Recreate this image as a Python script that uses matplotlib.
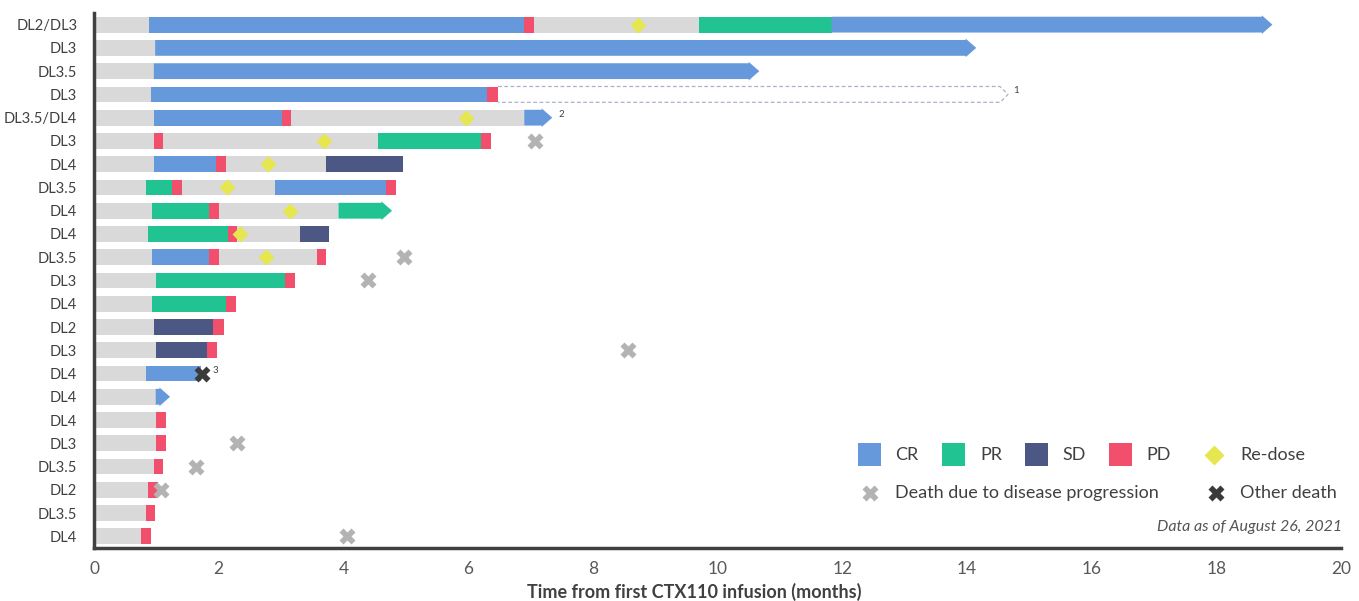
import matplotlib
matplotlib.use("Agg")
import matplotlib.pyplot as plt
from matplotlib.patches import Polygon, Rectangle
from matplotlib.lines import Line2D
from matplotlib.transforms import Affine2D

plt.rcParams['font.family'] = ['Lato', 'DejaVu Sans']

# ---------------- data ----------------
row_labels = ["DL2/DL3", "DL3", "DL3.5", "DL3", "DL3.5/DL4", "DL3", "DL4", "DL3.5",
              "DL4", "DL4", "DL3.5", "DL3", "DL4", "DL2", "DL3", "DL4", "DL4",
              "DL4", "DL3", "DL3.5", "DL2", "DL3.5", "DL4"]

seg_states = [
    ["G", "CR", "PD", "G", "PR", "CR"],
    ["G", "CR"],
    ["G", "CR"],
    ["G", "CR", "PD"],
    ["G", "CR", "PD", "G", "CR"],
    ["G", "PD", "G", "PR", "PD"],
    ["G", "CR", "PD", "G", "SD"],
    ["G", "PR", "PD", "G", "CR", "PD"],
    ["G", "PR", "PD", "G", "PR"],
    ["G", "PR", "PD", "G", "SD"],
    ["G", "CR", "PD", "G", "PD"],
    ["G", "PR", "PD"],
    ["G", "PR", "PD"],
    ["G", "SD", "PD"],
    ["G", "SD", "PD"],
    ["G", "CR"],
    ["G", "CR"],
    ["G", "PD"],
    ["G", "PD"],
    ["G", "PD"],
    ["G", "PD"],
    ["G", "PD"],
    ["G", "PD"],
]

seg_ends = [
    [0.89, 6.89, 7.06, 9.70, 11.83, 18.90],
    [0.98, 14.15],
    [0.96, 10.67],
    [0.92, 6.31, 6.48],
    [0.96, 3.01, 3.16, 6.90, 7.35],
    [0.96, 1.11, 4.56, 6.20, 6.36],
    [0.96, 1.95, 2.11, 3.72, 4.95],
    [0.83, 1.25, 1.41, 2.90, 4.69, 4.85],
    [0.93, 1.84, 2.01, 3.92, 4.78],
    [0.86, 2.15, 2.29, 3.31, 3.77],
    [0.93, 1.84, 2.01, 3.57, 3.72],
    [0.99, 3.07, 3.23],
    [0.93, 2.11, 2.28],
    [0.96, 1.91, 2.08],
    [0.99, 1.81, 1.98],
    [0.83, 1.71],
    [0.99, 1.22],
    [0.99, 1.15],
    [0.99, 1.16],
    [0.96, 1.11],
    [0.86, 1.02],
    [0.83, 0.98],
    [0.76, 0.92],
]

ongoing = [True, True, True, False, True, False, False, False, True, False, False,
           False, False, False, False, False, True, False, False, False, False,
           False, False]

# dashed continuation (row index, start, end)
dashed_row = 3
dashed_start = 6.48
dashed_end = 14.66

redose_rows = [0, 4, 5, 6, 7, 8, 9, 10]
redose_times = [8.72, 5.96, 3.69, 2.79, 2.13, 3.15, 2.34, 2.76]

death_pd_rows = [5, 10, 11, 14, 18, 19, 20, 22]
death_pd_times = [7.08, 4.97, 4.40, 8.57, 2.29, 1.63, 1.08, 4.05]

other_death_rows = [15]
other_death_times = [1.73]

note_rows = [3, 4, 15]
note_times = [14.74, 7.45, 1.90]
note_texts = ["1", "2", "3"]

x_ticks = [0, 2, 4, 6, 8, 10, 12, 14, 16, 18, 20]

# ---------------- style ----------------
colors = {"G": "#d9d9d9", "CR": "#6699dc", "PR": "#22c393", "SD": "#4d5783",
          "PD": "#f24f6d"}
redose_color = "#e6e64e"
death_pd_color = "#b3b3b3"
other_death_color = "#3a3a3a"
text_color = "#404040"

W, H = 1359, 601
fig = plt.figure(figsize=(W / 100, H / 100), dpi=100)
ax = fig.add_axes([94 / W, 1 - 548 / H, (1341 - 94) / W, (548 - 13) / H])

n = len(row_labels)
bar_h = 0.68
head_h = 0.80
head_len = 0.17

for i in range(n):
    start = 0.0
    states = seg_states[i]
    ends = seg_ends[i]
    for j, (st, en) in enumerate(zip(states, ends)):
        last = (j == len(states) - 1)
        if last and ongoing[i]:
            sh = en - head_len
            pts = [(start, i - bar_h / 2), (sh, i - bar_h / 2), (sh, i - head_h / 2),
                   (en, i), (sh, i + head_h / 2), (sh, i + bar_h / 2),
                   (start, i + bar_h / 2)]
            ax.add_patch(Polygon(pts, closed=True, facecolor=colors[st],
                                 edgecolor="none", zorder=2))
        else:
            ax.barh(i, en - start, left=start, height=bar_h, color=colors[st],
                    edgecolor="none", zorder=2)
        start = en

# dashed outline arrow
i = dashed_row
sh = dashed_end - 0.13
pts = [(dashed_start, i - bar_h / 2), (sh, i - bar_h / 2), (dashed_end, i),
       (sh, i + bar_h / 2), (dashed_start, i + bar_h / 2)]
ax.add_patch(Polygon(pts, closed=False, facecolor="none", edgecolor="#a9b3c6",
                     linestyle=(0, (3, 2)), linewidth=0.9, zorder=2))

ax.plot(redose_times, redose_rows, linestyle="none", marker="D", markersize=8.5,
        color=redose_color, markeredgecolor="none", zorder=4)
ax.plot(death_pd_times, death_pd_rows, linestyle="none", marker="X", markersize=11,
        color=death_pd_color, markeredgecolor="none", zorder=4)
ax.plot(other_death_times, other_death_rows, linestyle="none", marker="X",
        markersize=11, color=other_death_color, markeredgecolor="none", zorder=4)

for r, t, s in zip(note_rows, note_times, note_texts):
    ax.text(t, r - 0.15, s, fontsize=7, color=text_color, ha="left", va="center")

ax.set_xlim(0, 20)
ax.set_ylim(n - 0.5, -0.5)
ax.set_xticks(x_ticks)
ax.set_xticklabels([str(t) for t in x_ticks])
ax.set_yticks(range(n))
ax.set_yticklabels(row_labels)
ax.tick_params(axis="x", length=0, pad=9, labelsize=12.5, labelcolor="#595959")
ax.tick_params(axis="y", length=0, pad=12, labelsize=10.5, labelcolor=text_color)
for s in ["top", "right"]:
    ax.spines[s].set_visible(False)
for s in ["left", "bottom"]:
    ax.spines[s].set_color("#404040")
    ax.spines[s].set_linewidth(2.5)
ax.set_xlabel("Time from first CTX110 infusion (months)", fontsize=13,
              fontweight="bold", color=text_color)
ax.xaxis.set_label_coords((694.5 - 94) / 1247, -(592 - 548) / 535, transform=None) if False else None
ax.xaxis.set_label_coords((694.5 - 94) / 1247, -(592 - 548) / 535)
ax.xaxis.label.set_va("center")

# ---------------- legend (figure pixel coordinates) ----------------
pix = Affine2D().scale(1 / W, -1 / H).translate(0, 1) + fig.transFigure
leg_items = [("CR", 858, 895), ("PR", 942, 980), ("SD", 1025, 1062), ("PD", 1109, 1146)]
for key, sx, tx in leg_items:
    fig.add_artist(Rectangle((sx, 443), 23, 23, transform=pix, facecolor=colors[key],
                             edgecolor="none"))
    fig.text(tx, 455, key, transform=pix, fontsize=13, color=text_color,
             ha="left", va="center")
fig.add_artist(Line2D([1214], [455], transform=pix, marker="D", markersize=10,
                      color=redose_color, markeredgecolor="none"))
fig.text(1240, 455, "Re-dose", transform=pix, fontsize=13, color=text_color,
         ha="left", va="center")
fig.add_artist(Line2D([870], [493], transform=pix, marker="X", markersize=11,
                      color=death_pd_color, markeredgecolor="none"))
fig.text(895, 493, "Death due to disease progression", transform=pix, fontsize=13,
         color=text_color, ha="left", va="center")
fig.add_artist(Line2D([1216], [493], transform=pix, marker="X", markersize=11,
                      color=other_death_color, markeredgecolor="none"))
fig.text(1240, 493, "Other death", transform=pix, fontsize=13, color=text_color,
         ha="left", va="center")
fig.text(1342, 527, "Data as of August 26, 2021", transform=pix, fontsize=11.5,
         style="italic", color="#555555", ha="right", va="center")

fig.savefig("out.png", dpi=100)
